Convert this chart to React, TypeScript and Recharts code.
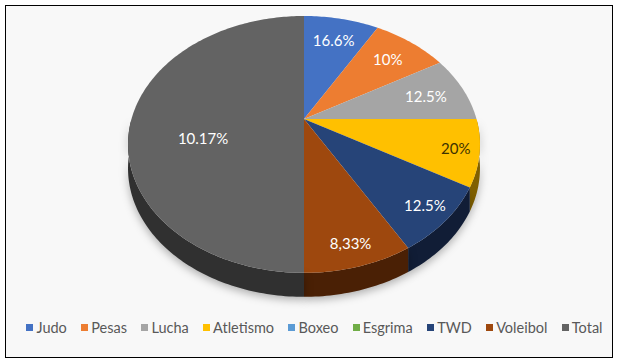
import React from 'react'
import { Legend, Pie, PieChart } from 'recharts'

const categories = ['Judo', 'Pesas', 'Lucha', 'Atletismo', 'Boxeo', 'Esgrima', 'TWD', 'Voleibol', 'Total']
// slice sizes (every named slice is a twelfth, Total is half)
const values = [1, 1, 1, 1, 0, 0, 1, 1, 6]
const labels = ['16.6%', '10%', '12.5%', '20%', '', '', '12.5%', '8,33%', '10.17%']
const colors = ['#4472c4', '#ed7d31', '#a5a5a5', '#ffc000', '#5b9bd5', '#70ad47', '#264478', '#9e480e', '#636363']
const sideColors = ['#213a66', '#7a3d13', '#555555', '#806000', '#2e5379', '#385a23', '#111d36', '#4a2005', '#303030']

const data = categories.map((name, i) => ({
  name,
  value: values[i],
  label: labels[i],
  fill: colors[i],
  side: sideColors[i],
  dark: i === 3,
}))

// simple perspective: tilt ratio, perspective strength, wall height
const TILT = 0.7154
const PERSP = 0.198
const DEPTH = 24
const RAD = Math.PI / 180

const pt = (cx: number, cy: number, r: number, deg: number, f = 1) => {
  const c = Math.cos(deg * RAD) * f
  const s = Math.sin(deg * RAD) * f
  const w = 1 + PERSP * s
  return [cx + (r * c) / w, cy - (TILT * r * s) / w]
}

const arc = (cx: number, cy: number, r: number, from: number, to: number, dy = 0) => {
  const pts: string[] = []
  const n = Math.max(2, Math.ceil(Math.abs(from - to)))
  for (let k = 0; k <= n; k++) {
    const a = from + ((to - from) * k) / n
    const [x, y] = pt(cx, cy, r, a)
    pts.push(`${x.toFixed(2)},${(y + dy).toFixed(2)}`)
  }
  return pts
}

const Slice = (props: any) => {
  const { cx, cy, outerRadius, startAngle, endAngle } = props
  const p = props.payload ?? props
  if (Math.abs(startAngle - endAngle) < 0.01) return <g />
  const hi = Math.max(startAngle, endAngle)
  const lo = Math.min(startAngle, endAngle)
  const top = `M${cx},${cy} L${arc(cx, cy, outerRadius, hi, lo).join(' L')} Z`
  const a = Math.max(lo, -180)
  const b = Math.min(hi, 0)
  let side = null
  if (a < b) {
    const d = [...arc(cx, cy, outerRadius, b, a), ...arc(cx, cy, outerRadius, a, b, DEPTH)]
    side = (
      <path
        d={`M${d.join(' L')} Z`}
        fill={p.side}
        style={{ filter: 'drop-shadow(0px 3px 4px rgba(0,0,0,0.3))' }}
      />
    )
  }
  return (
    <g>
      {side}
      <path d={top} fill={p.fill} />
    </g>
  )
}

const renderLabel = (props: any) => {
  const { cx, cy, midAngle, outerRadius, percent, payload } = props
  const p = payload?.label !== undefined ? payload : props
  if (!p.label) return null
  let x: number
  let y: number
  if (percent >= 0.5) {
    ;[x, y] = pt(cx, cy, outerRadius, midAngle, 0.585)
    y += outerRadius * 0.11
  } else {
    const f = Math.sin(midAngle * RAD) >= 0 ? 0.76 : 0.87
    ;[x, y] = pt(cx, cy, outerRadius, midAngle, f)
  }
  return (
    <text
      x={x}
      y={y}
      textAnchor="middle"
      dominantBaseline="central"
      fill={p.dark ? '#3d3200' : '#ffffff'}
      fontSize={15}
      fontFamily="Lato, 'Open Sans', sans-serif"
    >
      {p.label}
    </text>
  )
}

const LegendContent = () => (
  <div
    style={{
      display: 'flex',
      justifyContent: 'center',
      gap: 14.4,
      fontFamily: "Lato, 'Open Sans', sans-serif",
      fontSize: 14.5,
      color: '#595959',
    }}
  >
    {categories.map((c, i) => (
      <div key={c} style={{ display: 'flex', alignItems: 'center', gap: 3 }}>
        <span style={{ width: 7, height: 7, background: colors[i], display: 'inline-block' }} />
        <span>{c}</span>
      </div>
    ))}
  </div>
)

export default function App() {
  return (
    <div style={{ position: 'relative', width: 617, height: 364, background: '#ffffff' }}>
      <style>{'body{margin:0}'}</style>
      <div
        style={{
          position: 'absolute',
          left: 5,
          top: 5,
          width: 606,
          height: 351,
          border: '1.5px solid #000',
          background: '#f8f8f8',
        }}
      />
      <div style={{ position: 'absolute', left: 0, top: 0 }}>
        <PieChart width={617} height={364} margin={{ top: 0, right: 0, bottom: 0, left: 0 }}>
          <Pie
            data={data}
            dataKey="value"
            nameKey="name"
            cx={304}
            cy={119}
            outerRadius={172.5}
            startAngle={90}
            endAngle={-270}
            stroke="none"
            label={renderLabel}
            labelLine={false}
            shape={Slice}
            activeShape={Slice}
            inactiveShape={Slice}
            isAnimationActive={false}
          />
          <Legend
            content={LegendContent}
            wrapperStyle={{ position: 'absolute', top: 319, left: 6, width: 617 }}
          />
        </PieChart>
      </div>
    </div>
  )
}
